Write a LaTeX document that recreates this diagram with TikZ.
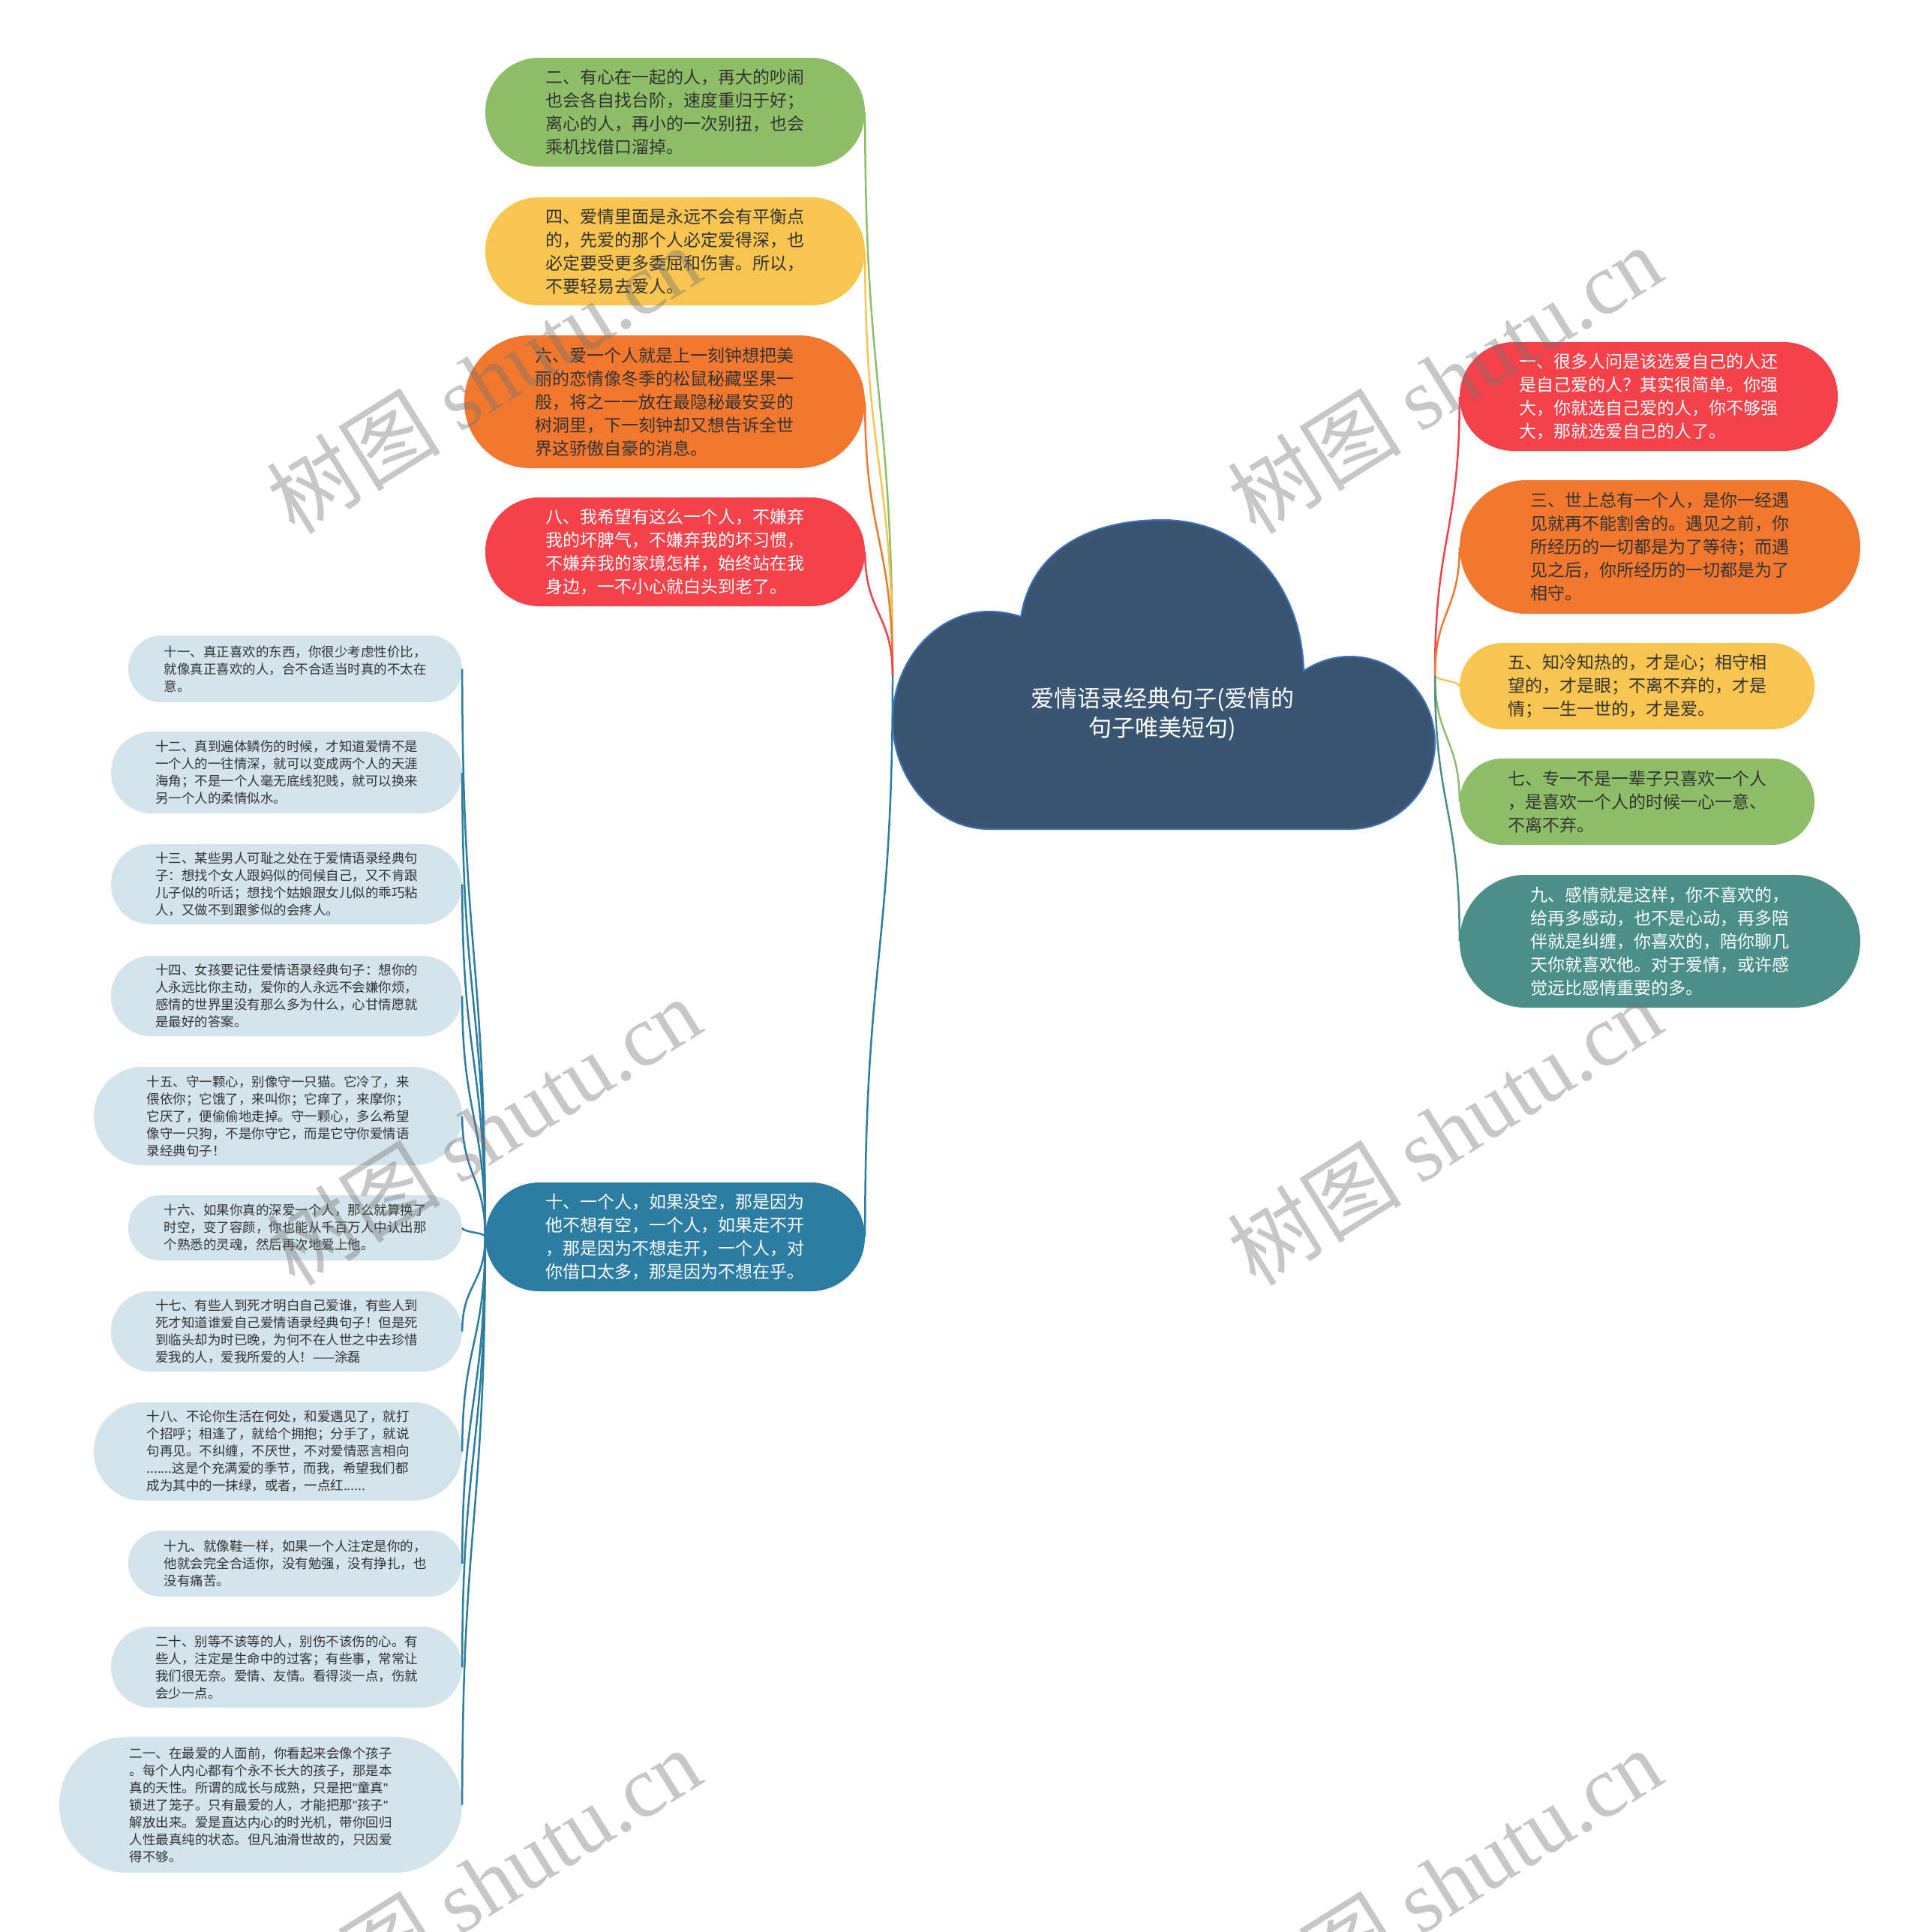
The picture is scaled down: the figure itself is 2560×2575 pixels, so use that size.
\documentclass[tikz,border=0pt]{standalone}
\usepackage{fontspec}
\setmainfont{Noto Sans CJK SC}
\newfontfamily\wmlatin{Liberation Serif}
\newfontfamily\qlatin{Liberation Sans}
\usetikzlibrary{calc}
\definecolor{cgreen}{HTML}{8FBE69}
\definecolor{cyellow}{HTML}{F8C550}
\definecolor{corange}{HTML}{F1782E}
\definecolor{cred}{HTML}{F5424A}
\definecolor{cblue}{HTML}{2D7DA3}
\definecolor{cteal}{HTML}{4B8F89}
\definecolor{ccloud}{HTML}{3A5571}
\definecolor{ccloudedge}{HTML}{3F72B8}
\definecolor{clight}{HTML}{D3E4EC}
\definecolor{ctext}{HTML}{333333}
\newcommand\cnx[3]{\draw[conn,#1] let \p1=(#2), \p2=(#3) in (\p1) .. controls (\x1,{0.5*(\y1+\y2)}) and (\x2,{0.5*(\y1+\y2)}) .. (\p2);}
\newcommand\dq{{\qlatin\char"22}}
\begin{document}
\begin{tikzpicture}[x=1pt,y=-1pt,
  big/.style={inner sep=0pt, align=left, font=\fontsize{23}{31}\selectfont},
  small/.style={inner sep=0pt, align=left, font=\fontsize{17.5}{23}\selectfont, fill=clight, text=ctext},
  conn/.style={line width=2.5pt},
  wm/.style={text=black!55, opacity=0.4, font=\fontsize{116}{116}\selectfont, rotate=32, inner sep=0pt}]
\useasboundingbox (0,0) rectangle (2560,2575);
\fill[white] (0,0) rectangle (2560,2575);

% cloud
\filldraw[fill=ccloud, draw=ccloudedge, line width=2pt]
  (1361,822) .. controls (1375,735) and (1450,693) .. (1549,693)
  .. controls (1660,693) and (1735,780) .. (1738,894)
  .. controls (1760,880) and (1780,875) .. (1800,875)
  .. controls (1862,875) and (1913,927) .. (1913,990)
  .. controls (1913,1053) and (1862,1105) .. (1800,1105)
  -- (1318,1105)
  .. controls (1249,1105) and (1190,1040) .. (1190,960)
  .. controls (1190,880) and (1249,815) .. (1318,815)
  .. controls (1335,815) and (1350,818) .. (1361,822) -- cycle;
\node[text=white, align=center, inner sep=0pt, font=\fontsize{31}{39}\selectfont] (title) at (1550,952) {爱情语录经典句子(爱情的\\句子唯美短句)};
\coordinate (jl) at (1190,900);
\coordinate (jr) at (1913,900);

% left upper branches
\node[big, fill=cgreen, text=ctext, minimum width=506pt, minimum height=145pt, rounded corners=72pt] (n2) at (900,149.5) {二、有心在一起的人，再大的吵闹\\也会各自找台阶，速度重归于好；\\离心的人，再小的一次别扭，也会\\乘机找借口溜掉。};
\node[big, fill=cyellow, text=ctext, minimum width=506pt, minimum height=144pt, rounded corners=71.5pt] (n4) at (900,335) {四、爱情里面是永远不会有平衡点\\的，先爱的那个人必定爱得深，也\\必定要受更多委屈和伤害。所以，\\不要轻易去爱人。};
\node[big, fill=corange, text=ctext, minimum width=534pt, minimum height=177pt, rounded corners=88pt] (n6) at (886,535.5) {六、爱一个人就是上一刻钟想把美\\丽的恋情像冬季的松鼠秘藏坚果一\\般，将之一一放在最隐秘最安妥的\\树洞里，下一刻钟却又想告诉全世\\界这骄傲自豪的消息。};
\node[big, fill=cred, text=white, minimum width=506pt, minimum height=145pt, rounded corners=72pt] (n8) at (900,735.5) {八、我希望有这么一个人，不嫌弃\\我的坏脾气，不嫌弃我的坏习惯，\\不嫌弃我的家境怎样，始终站在我\\身边，一不小心就白头到老了。};
\node[big, fill=cblue, text=white, minimum width=506pt, minimum height=145pt, rounded corners=72pt] (n10) at (900,1648.5) {十、一个人，如果没空，那是因为\\他不想有空，一个人，如果走不开\\，那是因为不想走开，一个人，对\\你借口太多，那是因为不想在乎。};

% right branches
\node[big, fill=cred, text=white, minimum width=504pt, minimum height=145pt, rounded corners=72pt] (n1) at (2198,528.5) {一、很多人问是该选爱自己的人还\\是自己爱的人？其实很简单。你强\\大，你就选自己爱的人，你不够强\\大，那就选爱自己的人了。};
\node[big, fill=corange, text=ctext, minimum width=534pt, minimum height=178pt, rounded corners=88.5pt] (n3) at (2213,729) {三、世上总有一个人，是你一经遇\\见就再不能割舍的。遇见之前，你\\所经历的一切都是为了等待；而遇\\见之后，你所经历的一切都是为了\\相守。};
\node[big, fill=cyellow, text=ctext, minimum width=473pt, minimum height=115pt, rounded corners=57pt] (n5) at (2182.5,914.5) {五、知冷知热的，才是心；相守相\\望的，才是眼；不离不弃的，才是\\情；一生一世的，才是爱。};
\node[big, fill=cgreen, text=ctext, minimum width=473pt, minimum height=115pt, rounded corners=57pt] (n7) at (2182.5,1068.5) {七、专一不是一辈子只喜欢一个人\\，是喜欢一个人的时候一心一意、\\不离不弃。};
\node[big, fill=cteal, text=white, minimum width=534pt, minimum height=177pt, rounded corners=88pt] (n9) at (2213,1254.5) {九、感情就是这样，你不喜欢的，\\给再多感动，也不是心动，再多陪\\伴就是纠缠，你喜欢的，陪你聊几\\天你就喜欢他。对于爱情，或许感\\觉远比感情重要的多。};

% small nodes
\node[small, minimum width=445pt, minimum height=89pt, rounded corners=44pt] (n11) at (393.5,891.5) {十一、真正喜欢的东西，你很少考虑性价比，\\就像真正喜欢的人，合不合适当时真的不太在\\意。};
\node[small, minimum width=468pt, minimum height=109pt, rounded corners=54pt] (n12) at (382,1029.5) {十二、真到遍体鳞伤的时候，才知道爱情不是\\一个人的一往情深，就可以变成两个人的天涯\\海角；不是一个人毫无底线犯贱，就可以换来\\另一个人的柔情似水。};
\node[small, minimum width=468pt, minimum height=107pt, rounded corners=53pt] (n13) at (382,1178.5) {十三、某些男人可耻之处在于爱情语录经典句\\子：想找个女人跟妈似的伺候自己，又不肯跟\\儿子似的听话；想找个姑娘跟女儿似的乖巧粘\\人，又做不到跟爹似的会疼人。};
\node[small, minimum width=468pt, minimum height=107pt, rounded corners=53pt] (n14) at (382,1327.5) {十四、女孩要记住爱情语录经典句子：想你的\\人永远比你主动，爱你的人永远不会嫌你烦，\\感情的世界里没有那么多为什么，心甘情愿就\\是最好的答案。};
\node[small, minimum width=491pt, minimum height=131pt, rounded corners=65pt] (n15) at (370.5,1487.5) {十五、守一颗心，别像守一只猫。它冷了，来\\偎依你；它饿了，来叫你；它痒了，来摩你；\\它厌了，便偷偷地走掉。守一颗心，多么希望\\像守一只狗，不是你守它，而是它守你爱情语\\录经典句子！};
\node[small, minimum width=445pt, minimum height=87pt, rounded corners=43pt] (n16) at (393.5,1636.5) {十六、如果你真的深爱一个人，那么就算换了\\时空，变了容颜，你也能从千百万人中认出那\\个熟悉的灵魂，然后再次地爱上他。};
\node[small, minimum width=468pt, minimum height=107pt, rounded corners=53pt] (n17) at (382,1774.5) {十七、有些人到死才明白自己爱谁，有些人到\\死才知道谁爱自己爱情语录经典句子！但是死\\到临头却为时已晚，为何不在人世之中去珍惜\\爱我的人，爱我所爱的人！——涂磊};
\node[small, minimum width=491pt, minimum height=131pt, rounded corners=65pt] (n18) at (370.5,1934.5) {十八、不论你生活在何处，和爱遇见了，就打\\个招呼；相逢了，就给个拥抱；分手了，就说\\句再见。不纠缠，不厌世，不对爱情恶言相向\\.......这是个充满爱的季节，而我，希望我们都\\成为其中的一抹绿，或者，一点红......};
\node[small, minimum width=445pt, minimum height=88pt, rounded corners=43.5pt] (n19) at (393.5,2084) {十九、就像鞋一样，如果一个人注定是你的，\\他就会完全合适你，没有勉强，没有挣扎，也\\没有痛苦。};
\node[small, minimum width=468pt, minimum height=108pt, rounded corners=53.5pt] (n20) at (382,2222) {二十、别等不该等的人，别伤不该伤的心。有\\些人，注定是生命中的过客；有些事，常常让\\我们很无奈。爱情、友情。看得淡一点，伤就\\会少一点。};
\node[small, minimum width=537pt, minimum height=181pt, rounded corners=90pt] (n21) at (347.5,2405.5) {二一、在最爱的人面前，你看起来会像个孩子\\。每个人内心都有个永不长大的孩子，那是本\\真的天性。所谓的成长与成熟，只是把\dq 童真\dq\\锁进了笼子。只有最爱的人，才能把那\dq 孩子\dq\\解放出来。爱是直达内心的时光机，带你回归\\人性最真纯的状态。但凡油滑世故的，只因爱\\得不够。};

% connectors
\cnx{cgreen}{jl}{n2.east}
\cnx{cyellow}{jl}{n4.east}
\cnx{corange}{jl}{n6.east}
\cnx{cred}{jl}{n8.east}
\cnx{cblue}{jl}{n10.east}
\cnx{cred}{jr}{n1.west}
\cnx{corange}{jr}{n3.west}
\cnx{cyellow}{jr}{n5.west}
\cnx{cgreen}{jr}{n7.west}
\cnx{cteal}{jr}{n9.west}
\foreach \k in {11,...,21} {\cnx{cblue}{n10.west}{n\k.east}}

% watermarks
\node[wm] (w1) at (645,505) {树图 {\wmlatin shutu.cn}};
\node[wm] (w2) at (1926,505) {树图 {\wmlatin shutu.cn}};
\node[wm] (w3) at (645,1507) {树图 {\wmlatin shutu.cn}};
\node[wm] (w4) at (1926,1507) {树图 {\wmlatin shutu.cn}};
\node[wm] (w5) at (645,2508) {树图 {\wmlatin shutu.cn}};
\node[wm] (w6) at (1926,2508) {树图 {\wmlatin shutu.cn}};
\end{tikzpicture}
\end{document}
